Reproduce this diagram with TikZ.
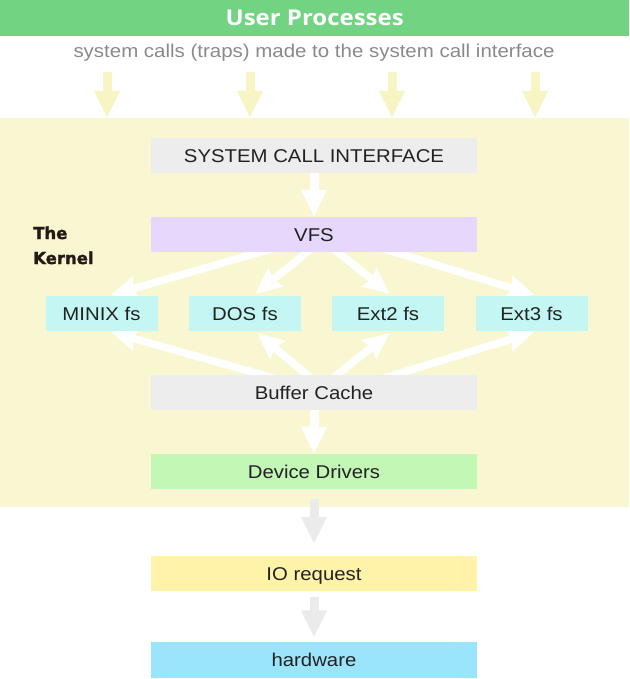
\documentclass[tikz,border=0pt]{standalone}
\usepackage{fontspec}
\setmainfont{Liberation Sans}[FakeStretch=1.1]
\newfontfamily\titlefont{Open Sans}[FakeStretch=1.1]
\newfontfamily\kernfont{DejaVu Sans}[BoldFeatures={FakeBold=1.6}]
\usetikzlibrary{arrows.meta}
\definecolor{topgreen}{HTML}{72D383}
\definecolor{subgray}{HTML}{8A8A8A}
\definecolor{yarrow}{HTML}{F7F5C3}
\definecolor{kernbg}{HTML}{F9F7D1}
\definecolor{boxgray}{HTML}{EDEDED}
\definecolor{vfsc}{HTML}{E7D7FC}
\definecolor{fsc}{HTML}{C4F7F4}
\definecolor{ddc}{HTML}{C2F7B5}
\definecolor{ioc}{HTML}{FFF3AA}
\definecolor{hwc}{HTML}{9AE4FC}
\definecolor{garrow}{HTML}{EBEBEB}
\definecolor{txt}{HTML}{222222}
\definecolor{kerntxt}{HTML}{231915}
\pgfdeclarelayer{bglayer}
\pgfdeclarelayer{arrowlayer}
\pgfsetlayers{bglayer,arrowlayer,main}
\begin{document}
\begin{tikzpicture}[x=1pt,y=-1pt,
  box/.style={fill=#1, draw=none, minimum width=326pt, minimum height=35pt,
    inner sep=0pt, text height=13.4pt, text depth=0pt,
    font=\fontsize{18.5}{22}\selectfont, text=txt},
  fsbox/.style={box=fsc, minimum width=112pt},
  vertarrow/.style={draw=#1, line width=9pt, -{Triangle[length=27pt,width=24pt]}},
  diagarrow/.style={draw=white, line width=7.5pt, -{Stealth[length=26pt,width=23pt,inset=3pt]},
    shorten <=-14pt, shorten >=3pt},
  kernlabel/.style={font=\kernfont\bfseries\fontsize{16.5}{20}\selectfont, text=kerntxt,
    inner sep=0pt, anchor=base west}
]
\useasboundingbox (0,0) rectangle (629,679);

% title bar
\node[fill=topgreen, minimum width=629pt, minimum height=36pt, inner sep=0pt,
  anchor=north west, text=white, text height=15pt, text depth=0pt,
  font=\titlefont\bfseries\fontsize{21.8}{25}\selectfont] (user) at (0,0) {User Processes};
\node[text=subgray, inner sep=0pt, anchor=base,
  font=\fontsize{18.6}{22}\selectfont] (sub) at (314,58)
  {system calls (traps) made to the system call interface};

% kernel background
\begin{pgfonlayer}{bglayer}
\node[fill=kernbg, minimum width=629pt, minimum height=389pt, inner sep=0pt,
  anchor=north west] (kernel) at (0,118) {};
\end{pgfonlayer}

% top yellow arrows
\foreach \i/\x in {1/107,2/250,3/392,4/535}{
  \coordinate (u\i) at (\x,72);
  \coordinate (d\i) at (\x,118);
}
\foreach \i in {1,...,4}{
  \draw[vertarrow=yarrow] (u\i) -- (d\i);
}

\node[kernlabel] (kthe) at (33,239) {The};
\node[kernlabel] (kkern) at (33,264) {Kernel};

% boxes
\node[box=boxgray] (sci) at (314,155.5) {SYSTEM CALL INTERFACE};
\node[box=vfsc] (vfs) at (314,234.5) {VFS};
\node[fsbox] (minix) at (101.5,313.5) {MINIX fs};
\node[fsbox] (dos) at (245,313.5) {DOS fs};
\node[fsbox] (ext2) at (388,313.5) {Ext2 fs};
\node[fsbox] (ext3) at (531.5,313.5) {Ext3 fs};
\node[box=boxgray] (buf) at (314,392.5) {Buffer Cache};
\node[box=ddc] (dd) at (314,471.5) {Device Drivers};
\node[box=ioc] (io) at (314,573.5) {IO request};
\node[box=hwc, minimum height=36pt] (hw) at (314,659.5) {hardware};

% arrows
\begin{pgfonlayer}{arrowlayer}
\draw[vertarrow=white] (sci.south) -- (vfs.north);
\draw[diagarrow] ([xshift=-54pt]vfs.south) -- ([xshift=6.5pt]minix.north);
\draw[diagarrow] ([xshift=-7pt]vfs.south) -- ([xshift=8pt]dos.north);
\draw[diagarrow] ([xshift=24pt]vfs.south) -- ([xshift=4pt]ext2.north);
\draw[diagarrow] ([xshift=81pt]vfs.south) -- ([xshift=5.5pt]ext3.north);
\draw[diagarrow] ([xshift=-52pt]buf.north) -- ([xshift=6.5pt]minix.south);
\draw[diagarrow] ([xshift=-7pt]buf.north) -- ([xshift=10pt]dos.south);
\draw[diagarrow] ([xshift=23pt]buf.north) -- ([xshift=4pt]ext2.south);
\draw[diagarrow] ([xshift=81pt]buf.north) -- ([xshift=5.5pt]ext3.south);
\draw[vertarrow=white] (buf.south) -- (dd.north);
\end{pgfonlayer}
\draw[vertarrow=garrow, shorten <=10pt, shorten >=12pt] (dd.south) -- (io.north);
\draw[vertarrow=garrow, shorten <=6pt, shorten >=4pt] (io.south) -- (hw.north);
\end{tikzpicture}
\end{document}
